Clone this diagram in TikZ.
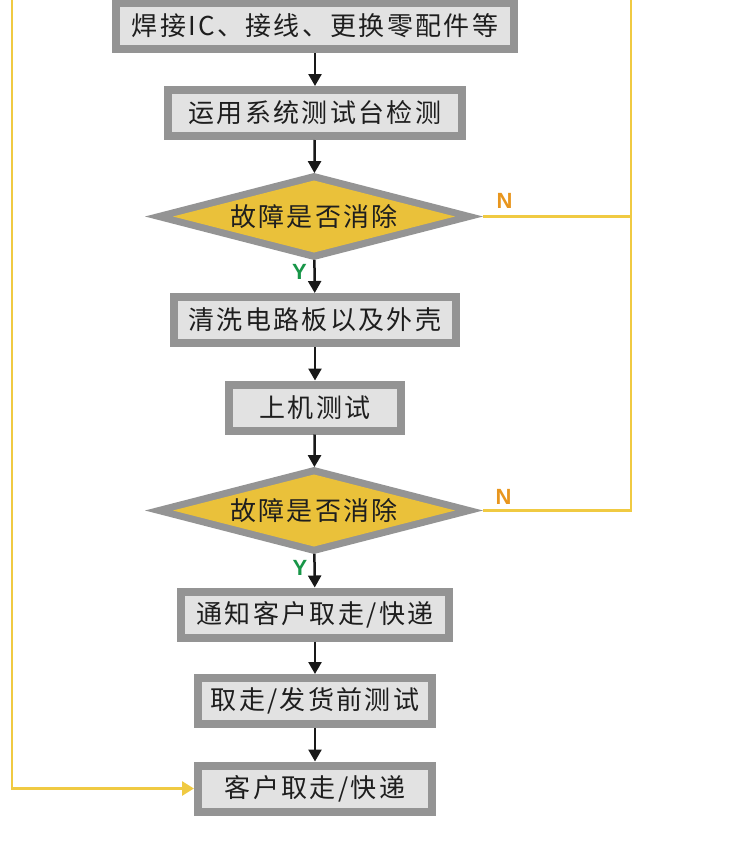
\documentclass[tikz,border=0pt]{standalone}
\usepackage{fontspec}
\setmainfont{Liberation Sans}
\newfontfamily\cjk[LetterSpace=9]{Noto Sans CJK SC}
\usetikzlibrary{shapes.geometric,arrows.meta}
\definecolor{bordergray}{RGB}{148,148,148}
\definecolor{boxfill}{RGB}{226,226,226}
\definecolor{dyellow}{RGB}{234,193,58}
\definecolor{lineyellow}{RGB}{240,202,66}
\definecolor{norange}{RGB}{232,150,30}
\definecolor{ygreen}{RGB}{24,150,72}
\definecolor{txt}{RGB}{30,30,30}
\definecolor{arrblack}{RGB}{25,25,25}
\begin{document}
\begin{tikzpicture}[x=1pt,y=-1pt,
  stepbox/.style={draw=bordergray, line width=8pt, fill=boxfill, minimum height=46pt,
    inner sep=0pt, font=\cjk\fontsize{26}{26}\selectfont, text=txt},
  dout/.style={diamond, aspect=3.9, fill=bordergray, inner sep=0pt, outer sep=0pt,
    minimum width=338pt, minimum height=87pt},
  din/.style={diamond, aspect=3.9, fill=dyellow, inner sep=0pt, outer sep=0pt,
    minimum width=282pt, minimum height=72pt, font=\cjk\fontsize{26}{26}\selectfont, text=txt},
  arr/.style={line width=2.5pt, draw=arrblack, -{Triangle[width=13pt,length=12pt]}},
  yline/.style={line width=2.8pt, draw=lineyellow},
  yarr/.style={line width=2.8pt, draw=lineyellow, -{Triangle[width=14pt,length=12pt]}},
  ylab/.style={font=\bfseries\fontsize{22}{22}\selectfont, text=ygreen},
  nlab/.style={font=\bfseries\fontsize{22}{22}\selectfont, text=norange}]
\useasboundingbox (0,0) rectangle (730,862);

% free ends of the yellow return lines (above the page)
\coordinate (tl) at (12,-10);
\coordinate (tr) at (631,-10);

% boxes and decisions
\node[stepbox, minimum width=398pt] (b1) at (315,26) {焊接IC、接线、更换零配件等};
\node[stepbox, minimum width=294pt] (b2) at (315,113) {运用系统测试台检测};
\node[dout] (d1) at (314,216.5) {};
\node[din] (d1i) at (314,216.5) {故障是否消除};
\node[stepbox, minimum width=282pt] (b3) at (315,320) {清洗电路板以及外壳};
\node[stepbox, minimum width=172pt] (b4) at (315,407.5) {上机测试};
\node[dout] (d2) at (314,510.5) {};
\node[din] (d2i) at (314,510.5) {故障是否消除};
\node[stepbox, minimum width=268pt] (b5) at (315,614.5) {通知客户取走/快递};
\node[stepbox, minimum width=234pt] (b6) at (315,701) {取走/发货前测试};
\node[stepbox, minimum width=234pt] (b7) at (315,788.5) {客户取走/快递};

% black flow arrows
\draw[arr] (b1) -- (b2);
\draw[arr] (b2) -- (d1);
\draw[arr] (d1) -- (b3);
\draw[arr] (b3) -- (b4);
\draw[arr] (b4) -- (d2);
\draw[arr] (d2) -- (b5);
\draw[arr] (b5) -- (b6);
\draw[arr] (b6) -- (b7);

% yellow N lines
\draw[yline] (d1.east) -- (d1.east -| tr);
\draw[yline] (d2.east) -| (tr);
\draw[yarr] (tl) |- (b7.west);

% labels
\node[ylab] (y1) at (299.5,272) {Y};
\node[ylab] (y2) at (300,568) {Y};
\node[nlab] (n1) at (504.5,200.5) {N};
\node[nlab] (n2) at (503.5,496.5) {N};
\end{tikzpicture}
\end{document}
